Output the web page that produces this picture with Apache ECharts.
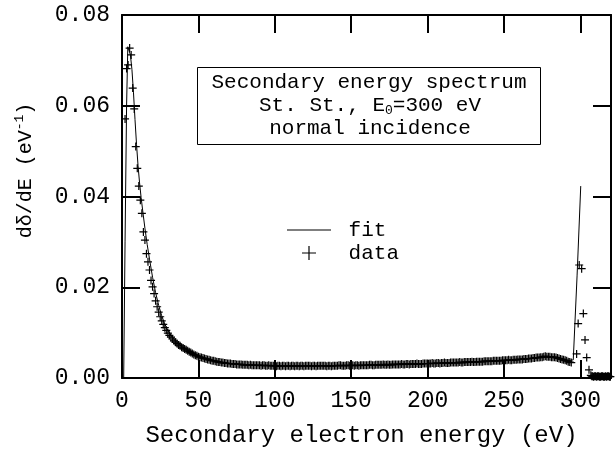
<!DOCTYPE html>
<html><head><meta charset="utf-8">
<script src="https://cdn.jsdelivr.net/npm/echarts@6/dist/echarts.min.js"></script>
<style>html,body{margin:0;padding:0;background:#fff}#c{width:616px;height:450px}</style>
</head><body><div id="c"></div>
<script>
// ---------- data ----------
const xTickValues = [0, 50, 100, 150, 200, 250, 300];
const yTickLabels = ['0.00', '0.02', '0.04', '0.06', '0.08'];
const seriesNames = ['fit', 'data'];

const fitE = [1.1, 2, 3, 3.8, 4.5, 5.5, 6.5, 7.5, 8.5, 9.5, 10.5, 11.5, 12.5, 13.5, 15, 16.5, 18, 20, 22, 24, 26, 28, 30, 33, 36, 40, 45, 50, 55, 60, 70, 80, 90, 100, 120, 140, 160, 180, 200, 220, 240, 255, 265, 272, 278, 283, 288, 292, 295.3, 297.8, 300.2];
const fitV = [0, 0.030, 0.060, 0.0730, 0.0728, 0.0712, 0.0680, 0.0630, 0.0570, 0.0515, 0.0468, 0.0430, 0.0398, 0.0370, 0.0330, 0.0294, 0.0262, 0.0222, 0.0188, 0.0160, 0.0137, 0.0119, 0.0105, 0.0089, 0.0078, 0.0067, 0.0057, 0.0049, 0.0043, 0.0038, 0.0032, 0.0029, 0.0028, 0.0027, 0.0027, 0.0027, 0.0028, 0.0029, 0.0031, 0.0033, 0.0036, 0.0039, 0.0042, 0.0045, 0.0046, 0.0045, 0.0041, 0.0038, 0.0040, 0.0225, 0.0423];

// measured points: peak region, even energies, odd energies, elastic peak and tail
const dataE = [2, 3, 4, 5, 6, 7, 8, 9, 10, 11, 12, 13, 14, 15, 16, 17, 18, 19, 20, 21, 22, 23, 24, 25, 26, 27, 28, 29, 30, 31, 32, 33, 34, 35, 36, 37, 38, 39, 40, 41, 42, 43, 44, 45, 46, 47, 48, 49, 50,
  52, 54, 56, 58, 60, 62, 64, 66, 68, 70, 72, 74, 76, 78, 80, 82, 84, 86, 88, 90, 92, 94, 96, 98, 100,
  102, 104, 106, 108, 110, 112, 114, 116, 118, 120, 122, 124, 126, 128, 130, 132, 134, 136, 138, 140,
  142, 144, 146, 148, 150, 152, 154, 156, 158, 160, 162, 164, 166, 168, 170, 172, 174, 176, 178, 180,
  182, 184, 186, 188, 190, 192, 194, 196, 198, 200, 202, 204, 206, 208, 210, 212, 214, 216, 218, 220,
  222, 224, 226, 228, 230, 232, 234, 236, 238, 240, 242, 244, 246, 248, 250, 252, 254, 256, 258, 260,
  262, 264, 266, 268, 270, 272, 274, 276, 278, 280, 282, 284, 286, 288, 290, 292, 294,
  51, 53, 55, 57, 59, 61, 63, 65, 67, 69, 71, 73, 75, 77, 79, 81, 83, 85, 87, 89, 91, 93, 95, 97, 99,
  101, 103, 105, 107, 109, 111, 113, 115, 117, 119, 121, 123, 125, 127, 129, 131, 133, 135, 137, 139,
  141, 143, 145, 147, 149, 151, 153, 155, 157, 159, 161, 163, 165, 167, 169, 171, 173, 175, 177, 179,
  181, 183, 185, 187, 189, 191, 193, 195, 197, 199, 201, 203, 205, 207, 209, 211, 213, 215, 217, 219,
  221, 223, 225, 227, 229, 231, 233, 235, 237, 239, 241, 243, 245, 247, 249, 251, 253, 255, 257, 259,
  261, 263, 265, 267, 269, 271, 273, 275, 277, 279, 281, 283, 285, 287, 289, 291, 293,
  297.5, 298.5, 299.2, 300.8, 301.9, 303.0, 304.1, 305.6, 306.8, 307.4, 308.0, 308.6, 309.3, 309.9, 310.6, 311.2, 311.9, 312.5, 313.2, 313.8, 314.5, 315.1, 315.8, 316.4, 317.1, 317.7, 318.4, 319.0, 319.6];
const dataV = [0.0571, 0.0682, 0.0690, 0.0727, 0.0712, 0.0639, 0.0593, 0.0510, 0.0462, 0.0423, 0.0392, 0.0363, 0.0322, 0.0304, 0.0274, 0.0256, 0.0238, 0.0215, 0.0201, 0.0186, 0.0170, 0.0157, 0.0145, 0.0135, 0.0126, 0.0118, 0.0111, 0.0105, 0.0099, 0.0094, 0.0090, 0.0086, 0.0082, 0.0079, 0.0076, 0.0073, 0.0071, 0.0068, 0.0066, 0.0064, 0.0062, 0.0060, 0.0058, 0.0056, 0.0054, 0.0052, 0.0050, 0.0049, 0.0047,
  0.0045, 0.0043, 0.0041, 0.0039, 0.0038, 0.0036, 0.0035, 0.0034, 0.0033, 0.0032, 0.0031, 0.0031, 0.0030, 0.0030, 0.0029, 0.0029, 0.0029, 0.0028, 0.0028, 0.0028, 0.0028, 0.0027, 0.0028, 0.0027, 0.0027,
  0.0027, 0.0026, 0.0027, 0.0027, 0.0026, 0.0027, 0.0027, 0.0026, 0.0027, 0.0027, 0.0027, 0.0026, 0.0027, 0.0027, 0.0027, 0.0027, 0.0026, 0.0027, 0.0027, 0.0027,
  0.0028, 0.0027, 0.0027, 0.0028, 0.0028, 0.0027, 0.0028, 0.0028, 0.0028, 0.0028, 0.0029, 0.0028, 0.0029, 0.0029, 0.0029, 0.0029, 0.0030, 0.0029, 0.0030, 0.0030,
  0.0030, 0.0030, 0.0031, 0.0030, 0.0031, 0.0031, 0.0031, 0.0031, 0.0032, 0.0032, 0.0032, 0.0032, 0.0033, 0.0032, 0.0033, 0.0033, 0.0033, 0.0034, 0.0034, 0.0034,
  0.0034, 0.0035, 0.0035, 0.0035, 0.0035, 0.0036, 0.0036, 0.0036, 0.0037, 0.0037, 0.0037, 0.0038, 0.0038, 0.0038, 0.0039, 0.0039, 0.0039, 0.0040, 0.0040, 0.0041,
  0.0041, 0.0042, 0.0043, 0.0043, 0.0044, 0.0045, 0.0046, 0.0047, 0.0047, 0.0047, 0.0046, 0.0045, 0.0043, 0.0041, 0.0039, 0.0036, 0.0034,
  0.0046, 0.0044, 0.0042, 0.0040, 0.0038, 0.0037, 0.0035, 0.0034, 0.0033, 0.0032, 0.0032, 0.0031, 0.0030, 0.0030, 0.0029, 0.0029, 0.0028, 0.0028, 0.0028, 0.0028, 0.0027, 0.0028, 0.0027, 0.0027, 0.0027,
  0.0026, 0.0027, 0.0027, 0.0026, 0.0027, 0.0027, 0.0026, 0.0027, 0.0027, 0.0026, 0.0027, 0.0027, 0.0027, 0.0026, 0.0027, 0.0027, 0.0027, 0.0027, 0.0026, 0.0027,
  0.0027, 0.0028, 0.0027, 0.0028, 0.0027, 0.0028, 0.0028, 0.0027, 0.0028, 0.0028, 0.0028, 0.0029, 0.0028, 0.0029, 0.0029, 0.0030, 0.0029, 0.0029, 0.0030, 0.0030,
  0.0030, 0.0031, 0.0030, 0.0031, 0.0031, 0.0031, 0.0032, 0.0031, 0.0032, 0.0032, 0.0032, 0.0033, 0.0032, 0.0033, 0.0033, 0.0034, 0.0033, 0.0034, 0.0034, 0.0034,
  0.0035, 0.0034, 0.0035, 0.0035, 0.0036, 0.0035, 0.0036, 0.0036, 0.0037, 0.0037, 0.0037, 0.0038, 0.0038, 0.0038, 0.0039, 0.0039, 0.0040, 0.0039, 0.0040, 0.0041,
  0.0041, 0.0042, 0.0042, 0.0043, 0.0044, 0.0045, 0.0045, 0.0046, 0.0048, 0.0047, 0.0046, 0.0046, 0.0044, 0.0042, 0.0040, 0.0038, 0.0035,
  0.0053, 0.0120, 0.0249, 0.0241, 0.0142, 0.0084, 0.0045, 0.0018, 0.0006, 0.0004, 0.0004, 0.0003, 0.0004, 0.0004, 0.0003, 0.0004, 0.0004, 0.0003, 0.0003, 0.0004, 0.0004, 0.0003, 0.0003, 0.0004, 0.0003, 0.0004, 0.0004, 0.0003, 0.0003];

const boxLines = ['Secondary energy spectrum', 'St. St., E{sub|0}=300 eV', 'normal incidence'];
const xName = 'Secondary electron energy (eV)';
const yName = 'dδ/dE (eV{sup|-1})';

// ---------- chart ----------
const FONT = "'Liberation Mono', 'Courier New', monospace";
const plusPath = 'path://M0,5H10M5,0V10';
const linePath = 'path://M0,0H44V1H0Z';
const zip = (a, b) => a.map((v, i) => [v, b[i]]);

const chart = echarts.init(document.getElementById('c'), null, {renderer: 'canvas'});

const axisCommon = {
  type: 'value',
  splitLine: {show: false},
  axisLine: {show: true, onZero: false, lineStyle: {color: '#000', width: 2}},
  axisTick: {show: true, inside: true, length: 18, lineStyle: {color: '#000', width: 2}}
};

chart.setOption({
  animation: false,
  backgroundColor: '#fff',
  grid: {left: 122, right: 5, top: 15, bottom: 72, containLabel: false, outerBoundsMode: 'none'},
  xAxis: [
    Object.assign({}, axisCommon, {
      position: 'bottom', min: 0, max: 320, interval: 50,
      axisLabel: {
        color: '#000', fontFamily: FONT, fontSize: 23, margin: 11,
        showMaxLabel: false,
        formatter: v => (xTickValues.indexOf(v) >= 0 ? String(v) : '')
      },
      name: xName, nameLocation: 'middle', nameGap: 46,
      nameTextStyle: {color: '#000', fontFamily: FONT, fontSize: 24, padding: [0, 10, 0, 0]}
    }),
    Object.assign({}, axisCommon, {
      position: 'top', min: 0, max: 320, interval: 50,
      axisLabel: {show: false}
    })
  ],
  yAxis: [
    Object.assign({}, axisCommon, {
      position: 'left', min: 0, max: 0.08, interval: 0.02,
      axisLabel: {
        color: '#000', fontFamily: FONT, fontSize: 23, margin: 12,
        formatter: v => yTickLabels[Math.round(v / 0.02)] || ''
      },
      name: yName, nameLocation: 'middle', nameGap: 84, nameRotate: 90,
      nameTextStyle: {
        color: '#000', fontFamily: FONT, fontSize: 20, padding: [0, 0, 0, 52],
        rich: {sup: {fontFamily: FONT, fontSize: 13, color: '#000', padding: [0, 0, 12, 0]}}
      }
    }),
    Object.assign({}, axisCommon, {
      position: 'right', min: 0, max: 0.08, interval: 0.02,
      axisLabel: {show: false}
    })
  ],
  legend: {
    show: true, orient: 'vertical', left: 287, top: 219.5, padding: 0,
    itemWidth: 44, itemHeight: 14, itemGap: 2, selectedMode: false,
    formatter: ' {name}',
    textStyle: {color: '#000', fontFamily: FONT, fontSize: 21, lineHeight: 21},
    data: [
      {name: seriesNames[0], icon: linePath, itemStyle: {color: '#000', borderWidth: 0}},
      {name: seriesNames[1], icon: plusPath, itemStyle: {color: '#000', borderColor: '#000', borderWidth: 1.2}}
    ]
  },
  series: [
    {
      name: seriesNames[1], type: 'scatter', symbol: plusPath, symbolSize: 8,
      itemStyle: {color: '#000', borderColor: '#000', borderWidth: 1.2, opacity: 1},
      data: zip(dataE, dataV), clip: false, z: 2
    },
    {
      name: seriesNames[0], type: 'line', symbol: 'none', showSymbol: false,
      lineStyle: {color: '#000', width: 1}, itemStyle: {color: '#000'},
      data: zip(fitE, fitV), z: 3
    }
  ],
  graphic: [
    {type: 'rect', left: 197, top: 67, shape: {width: 343, height: 77}, z: 10,
      style: {fill: '#fff', stroke: '#000', lineWidth: 1}},
    {type: 'text', x: 369, y: 82, z: 11,
      style: {text: boxLines[0], fill: '#000', font: '21px ' + FONT, align: 'center', verticalAlign: 'middle'}},
    {type: 'text', x: 370, y: 105, z: 11,
      style: {text: boxLines[1], fill: '#000', fontFamily: FONT, fontSize: 21, align: 'center', verticalAlign: 'middle',
        rich: {sub: {fontFamily: FONT, fontSize: 13, fill: '#000', padding: [12, 0, 0, 0]}}}},
    {type: 'text', x: 370, y: 128, z: 11,
      style: {text: boxLines[2], fill: '#000', font: '21px ' + FONT, align: 'center', verticalAlign: 'middle'}}
  ]
});
</script>
</body></html>
